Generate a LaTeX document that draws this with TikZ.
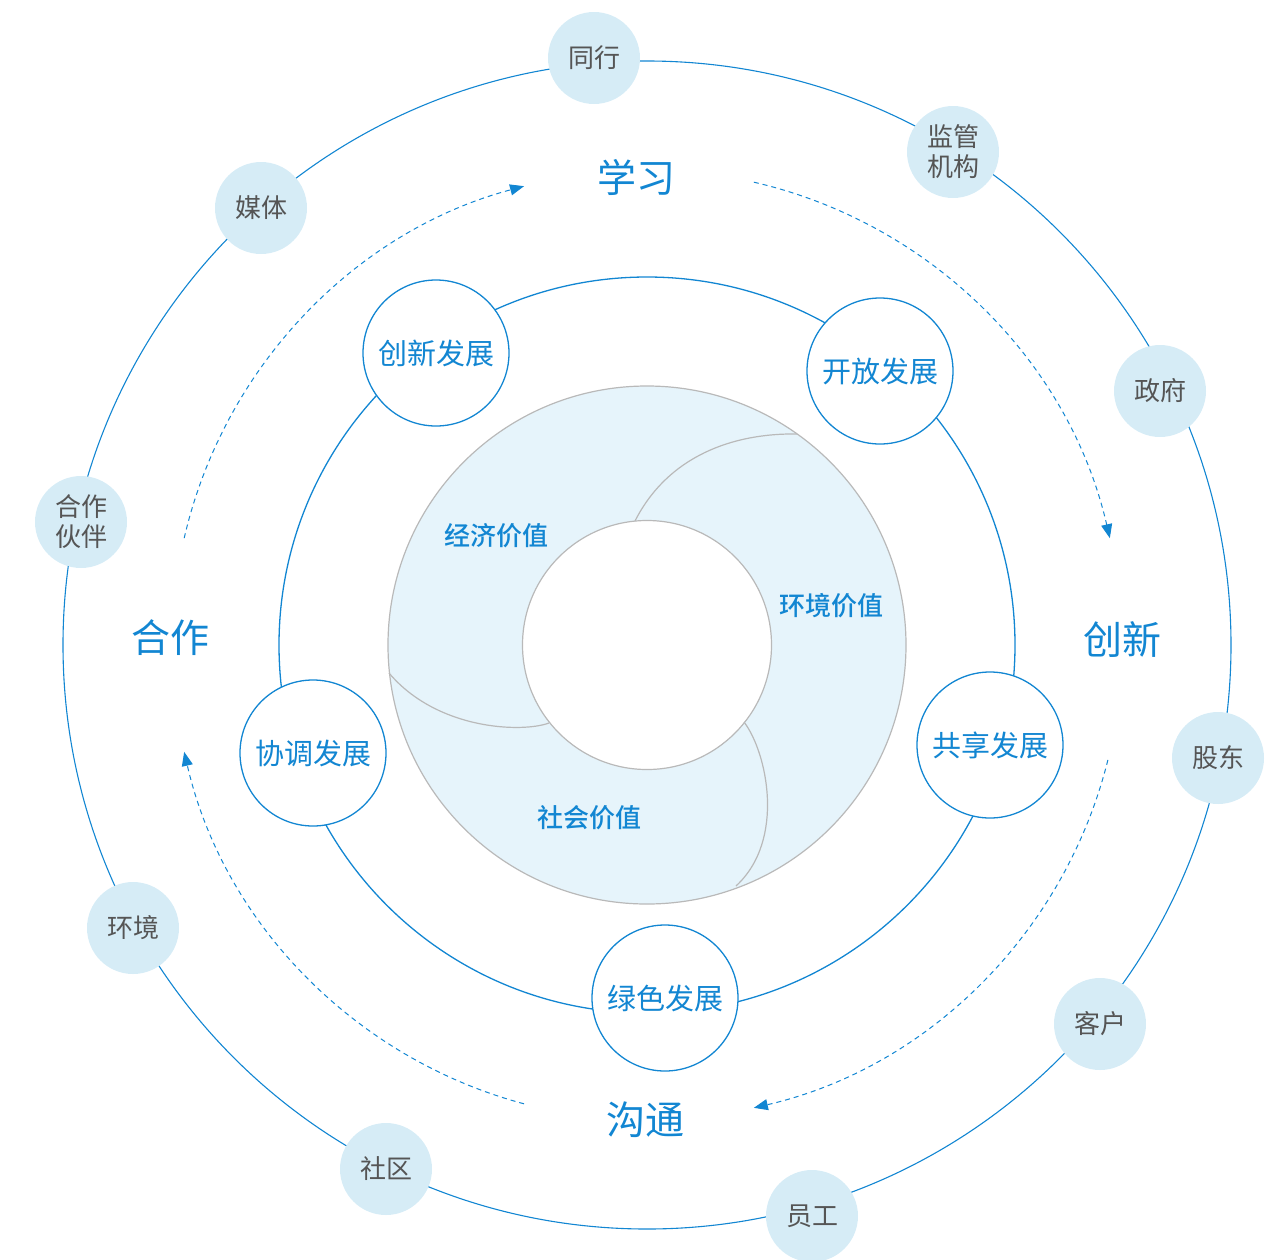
\documentclass[tikz,border=0pt]{standalone}
\usepackage{fontspec}
\setmainfont{Noto Sans CJK SC}
\newfontfamily\midfont{Noto Sans CJK SC Medium}
\usetikzlibrary{arrows.meta}
\definecolor{lineblue}{RGB}{18,134,210}
\definecolor{dotfill}{RGB}{214,236,246}
\definecolor{ringfill}{RGB}{230,244,251}
\definecolor{ringgray}{RGB}{185,185,185}
\definecolor{labelgray}{RGB}{85,85,85}

\begin{document}
\begin{tikzpicture}[x=1pt,y=-1pt,
  party/.style={circle,fill=dotfill,minimum size=92pt,inner sep=0pt,text=labelgray,
    font=\fontsize{26}{30}\selectfont,align=center},
  growth/.style={circle,draw=lineblue,fill=white,line width=1.3pt,minimum size=146pt,
    inner sep=0pt,text=lineblue,font=\fontsize{29}{31}\selectfont},
  act/.style={text=lineblue,font=\fontsize{39}{41}\selectfont},
  worth/.style={text=lineblue,font=\midfont\fontsize{26}{28}\selectfont},
  flow/.style={lineblue,line width=1pt,dash pattern=on 5pt off 4pt,
    -{Triangle[length=14pt,width=11pt]}}]

  \useasboundingbox (0,0) rectangle (1283,1259);
  \coordinate (O) at (647,645);

  % rings
  \draw[lineblue,line width=1.1pt] (O) circle[radius=584];
  \draw[lineblue,line width=1.3pt] (O) circle[radius=368];

  % value ring
  \fill[ringfill,even odd rule] (O) circle[radius=259] (O) circle[radius=124.5];
  \draw[ringgray,line width=1.2pt] (O) circle[radius=259] (O) circle[radius=124.5];
  \draw[ringgray,line width=1.2pt] (635,521) .. controls (668,456) and (733,433) .. (797,434);
  \draw[ringgray,line width=1.2pt] (549,723) .. controls (522,733) and (437,730) .. (389,673);
  \draw[ringgray,line width=1.2pt] (744,722) .. controls (767,752) and (786,840) .. (736,886);

  \node[worth] (econ) at (496,536) {经济价值};
  \node[worth] (envv) at (831,606) {环境价值};
  \node[worth] (soc) at (589,818) {社会价值};

  % cycle
  \draw[flow] (O) ++(-167:475) arc[start angle=-167,end angle=-105,radius=475];
  \draw[flow] (O) ++(-77:475) arc[start angle=-77,end angle=-13,radius=475];
  \draw[flow] (O) ++(14:475) arc[start angle=14,end angle=77,radius=475];
  \draw[flow] (O) ++(105:475) arc[start angle=105,end angle=167,radius=475];

  \node[act] (learn) at (636,177) {学习};
  \node[act] (innov) at (1122,640) {创新};
  \node[act] (talk) at (645,1120) {沟通};
  \node[act] (coop) at (170,638) {合作};

  % development
  \node[growth] (cxfz) at (436,353) {创新发展};
  \node[growth] (kffz) at (880,371) {开放发展};
  \node[growth] (gxfz) at (990,745) {共享发展};
  \node[growth] (lsfz) at (665,998) {绿色发展};
  \node[growth] (xtfz) at (313,753) {协调发展};

  % stakeholders
  \node[party] (peer) at (594,58) {同行};
  \node[party] (reg) at (953,152) {监管\\机构};
  \node[party] (gov) at (1160,391) {政府};
  \node[party] (share) at (1218,758) {股东};
  \node[party] (client) at (1100,1024) {客户};
  \node[party] (staff) at (812,1216) {员工};
  \node[party] (comm) at (386,1169) {社区};
  \node[party] (env) at (133,928) {环境};
  \node[party] (partner) at (81,522) {合作\\伙伴};
  \node[party] (media) at (261,208) {媒体};
\end{tikzpicture}
\end{document}
